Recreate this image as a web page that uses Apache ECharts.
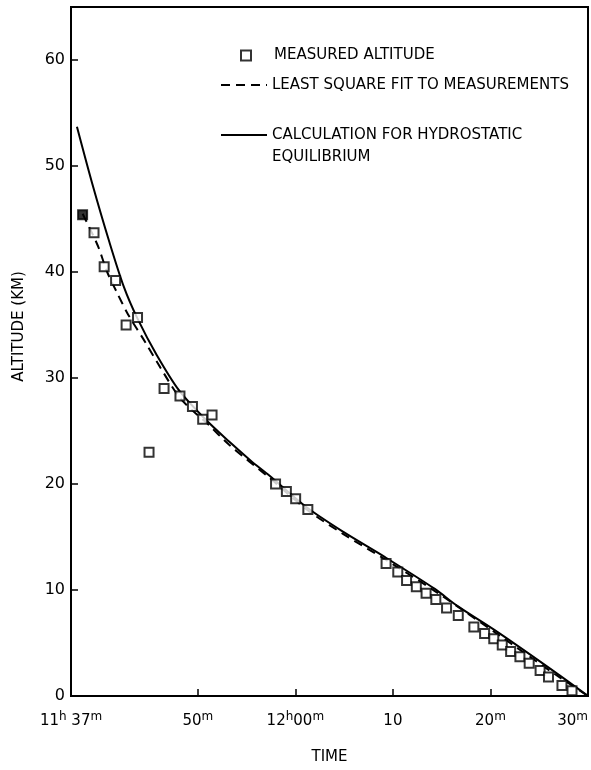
<!DOCTYPE html>
<html><head><meta charset="utf-8">
<script src="https://cdn.jsdelivr.net/npm/echarts@6/dist/echarts.min.js"></script>
<style>html,body{margin:0;padding:0;background:#fff}#c{width:591px;height:770px}</style>
</head><body><div id="c"></div>
<script>
// Time in minutes after 11h00m; altitude in km
const measuredTime = [38.19, 39.36, 40.40, 41.57, 42.65, 43.82, 45.0, 46.54, 48.17, 49.45, 50.50, 51.46,
  57.97, 59.08, 60.03, 61.28,
  69.30, 70.5, 71.4, 72.4, 73.4, 74.4, 75.5, 76.7, 78.3, 79.4, 80.34, 81.21, 82.07, 83.02, 83.97, 85.09, 85.95, 87.33, 88.36];
const measuredAlt = [45.4, 43.7, 40.5, 39.2, 35.0, 35.7, 23.0, 29.0, 28.3, 27.3, 26.1, 26.5,
  20.0, 19.3, 18.6, 17.6,
  12.5, 11.7, 10.9, 10.3, 9.7, 9.1, 8.3, 7.6, 6.5, 5.9, 5.4, 4.8, 4.2, 3.7, 3.1, 2.4, 1.8, 1.0, 0.5];
const filledPointIndex = 0;

const fitTime = [38.19, 39.74, 40.71, 41.69, 42.85, 44.60, 46.15, 48.10, 49.85, 50.98, 53.21, 57.33, 61.16, 64.88, 69.19, 74.3, 80.78, 86.55, 90];
const fitAlt  = [45.5, 42.5, 40.0, 38.1, 36.0, 33.4, 31.0, 28.2, 26.6, 25.7, 23.7, 20.6, 17.6, 15.3, 12.9, 9.9, 5.8, 2.1, 0];

const calcTime = [37.61, 39.16, 40.91, 42.42, 43.82, 45.77, 48.10, 50.67, 53.21, 55.43, 57.33, 61.16, 64.88, 69.19, 74.3, 76.6, 80.78, 86.55, 90];
const calcAlt  = [53.7, 48.4, 42.9, 38.6, 35.6, 32.2, 28.8, 26.2, 24.0, 22.2, 20.8, 17.8, 15.5, 13.1, 10.1, 8.5, 6.0, 2.3, 0];

const xTickValues = [37, 50, 60, 70, 80, 90];
const xTickLabels = ['11h 37m', '50m', '12h00m', '10', '20m', '30m'];
const yTickValues = [0, 10, 20, 30, 40, 50, 60];

const seriesNames = ['MEASURED ALTITUDE', 'LEAST SQUARE FIT TO MEASUREMENTS', 'CALCULATION FOR HYDROSTATIC\nEQUILIBRIUM'];

const FONT = 'DejaVu Sans';
const chart = echarts.init(document.getElementById('c'), null, {renderer: 'canvas'});

function zip(a, b) { return a.map((v, i) => [v, b[i]]); }
const measuredData = zip(measuredTime, measuredAlt).map((p, i) => i === filledPointIndex
  ? {value: p, itemStyle: {color: '#000'}} : {value: p});

function fmtX(v) {
  const i = xTickValues.indexOf(Math.round(v));
  if (i < 0) return '';
  return xTickLabels[i].replace(/(\d+)/g, '{n|$1}').replace(/([hm])/g, '{s|$1}').replace(/ /g, '{n| }');
}

chart.setOption({
  animation: false,
  backgroundColor: '#fff',
  grid: {left: 71, right: 1, top: 7, bottom: 73, show: true, borderColor: '#000', borderWidth: 2, backgroundColor: 'transparent'},
  xAxis: {
    type: 'value', min: 37, max: 90,
    name: 'TIME', nameLocation: 'middle', nameGap: 54,
    nameTextStyle: {fontFamily: FONT, fontSize: 15, color: '#000'},
    axisLine: {lineStyle: {color: '#000', width: 2}},
    axisTick: {inside: true, length: 7, customValues: xTickValues, lineStyle: {color: '#000', width: 1.5}},
    splitLine: {show: false},
    axisLabel: {
      customValues: xTickValues, margin: 15, alignMaxLabel: 'right',
      formatter: fmtX,
      rich: {
        n: {fontFamily: FONT, fontSize: 15, color: '#000', lineHeight: 20},
        s: {fontFamily: FONT, fontSize: 12, color: '#000', lineHeight: 11, verticalAlign: 'top'}
      }
    }
  },
  yAxis: {
    type: 'value', min: 0, max: 65,
    name: 'ALTITUDE (KM)', nameLocation: 'middle', nameGap: 44,
    nameTextStyle: {fontFamily: FONT, fontSize: 15, color: '#000', padding: [0, 0, 0, 50]},
    axisLine: {lineStyle: {color: '#000', width: 2}},
    axisTick: {inside: true, length: 7, customValues: yTickValues, lineStyle: {color: '#000', width: 1.5}},
    splitLine: {show: false},
    axisLabel: {customValues: yTickValues, margin: 6, fontFamily: FONT, fontSize: 16, color: '#000'}
  },
  legend: [
    {
      data: [seriesNames[0]], orient: 'vertical', left: 240, top: 48, padding: 0,
      itemWidth: 10, itemHeight: 10,
      formatter: n => '{t|' + n + '}',
      textStyle: {rich: {t: {fontFamily: FONT, fontSize: 15, color: '#000', lineHeight: 18, padding: [0, 0, 0, 18]}}}
    },
    {
      data: [seriesNames[1]], orient: 'vertical', left: 220, top: 76, padding: 0,
      itemWidth: 46, itemHeight: 14,
      itemStyle: {opacity: 0},
      textStyle: {fontFamily: FONT, fontSize: 15, color: '#000', lineHeight: 18}
    },
    {
      data: [seriesNames[2]], orient: 'vertical', left: 220, top: 102, padding: 0,
      itemWidth: 46, itemHeight: 14,
      itemStyle: {opacity: 0},
      formatter: n => '\n' + n,
      textStyle: {fontFamily: FONT, fontSize: 15, color: '#000', lineHeight: 22}
    }
  ],
  series: [
    {
      name: seriesNames[0], type: 'scatter', data: measuredData,
      symbol: 'rect', symbolSize: 9,
      itemStyle: {color: '#fff', borderColor: '#000', borderWidth: 2},
      z: 5
    },
    {
      name: seriesNames[1], type: 'line', data: zip(fitTime, fitAlt),
      symbol: 'none', smooth: 0.3,
      lineStyle: {color: '#000', width: 2, type: [9, 6]},
      itemStyle: {color: '#000'}
    },
    {
      name: seriesNames[2], type: 'line', data: zip(calcTime, calcAlt),
      symbol: 'none', smooth: 0.3,
      lineStyle: {color: '#000', width: 2},
      itemStyle: {color: '#000'}
    }
  ]
});
</script></body></html>
